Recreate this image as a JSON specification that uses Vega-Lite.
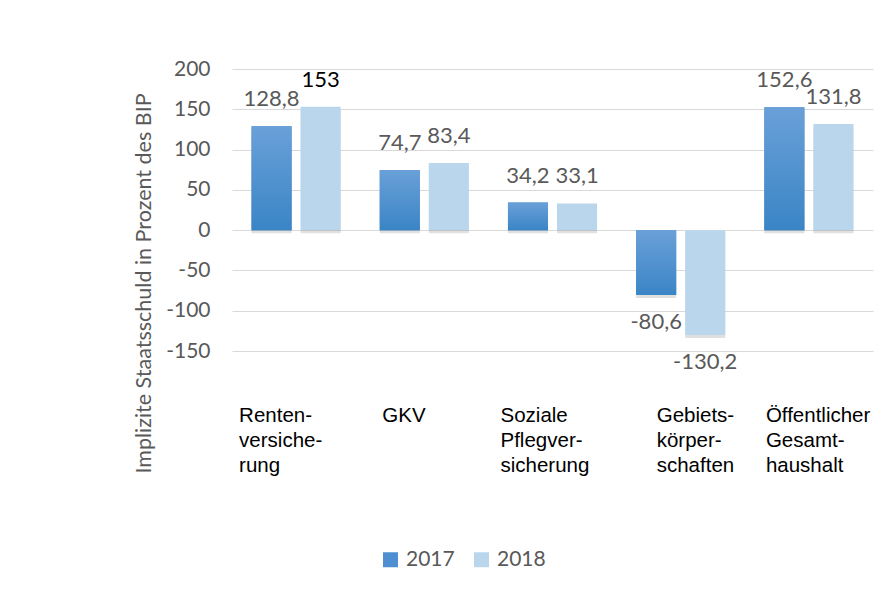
{
  "$schema": "https://vega.github.io/schema/vega-lite/v6.json",
  "width": 641,
  "height": 282,
  "autosize": "none",
  "padding": {"left": 232, "top": 69, "right": 18, "bottom": 242},
  "background": "white",
  "config": {
    "view": {"stroke": null},
    "font": "Lato",
    "locale": {"number": {"decimal": ",", "thousands": ".", "grouping": [3], "currency": ["", " €"], "minus": "-"}}
  },
  "data": {"values": [
    {"Bereich": "Rentenversicherung", "Jahr": "2017", "Wert": 128.8},
    {"Bereich": "Rentenversicherung", "Jahr": "2018", "Wert": 153},
    {"Bereich": "GKV", "Jahr": "2017", "Wert": 74.7},
    {"Bereich": "GKV", "Jahr": "2018", "Wert": 83.4},
    {"Bereich": "Soziale Pflegversicherung", "Jahr": "2017", "Wert": 34.2},
    {"Bereich": "Soziale Pflegversicherung", "Jahr": "2018", "Wert": 33.1},
    {"Bereich": "Gebietskörperschaften", "Jahr": "2017", "Wert": -80.6},
    {"Bereich": "Gebietskörperschaften", "Jahr": "2018", "Wert": -130.2},
    {"Bereich": "Öffentlicher Gesamthaushalt", "Jahr": "2017", "Wert": 152.6},
    {"Bereich": "Öffentlicher Gesamthaushalt", "Jahr": "2018", "Wert": 131.8}
  ]},
  "encoding": {
    "x": {
      "field": "Bereich", "type": "nominal", "sort": null,
      "scale": {"paddingInner": 0.305, "paddingOuter": 0.1525},
      "axis": {
        "title": null, "domain": false, "ticks": false, "grid": false,
        "labelAngle": 0, "labelAlign": "left", "labelBaseline": "top",
        "labelPadding": 54, "labelFont": "Liberation Sans", "labelFontSize": 20.5,
        "labelColor": "#000000", "labelLineHeight": 25, "labelOverlap": false, "labelLimit": 300,
        "labelExpr": "datum.value == 'Rentenversicherung' ? ['Renten-','versiche-','rung'] : datum.value == 'Soziale Pflegversicherung' ? ['Soziale','Pflegver-','sicherung'] : datum.value == 'Gebietskörperschaften' ? ['Gebiets-','körper-','schaften'] : datum.value == 'Öffentlicher Gesamthaushalt' ? ['Öffentlicher','Gesamt-','haushalt'] : datum.value",
        "labelOffset": {"expr": "datum.value == 'Rentenversicherung' ? -57 : datum.value == 'GKV' ? -42 : datum.value == 'Soziale Pflegversicherung' ? -52 : datum.value == 'Gebietskörperschaften' ? -24 : -43"}
      }
    },
    "xOffset": {"field": "Jahr", "type": "nominal", "scale": {"paddingInner": 0.184, "paddingOuter": 0}},
    "y": {
      "field": "Wert", "type": "quantitative",
      "scale": {"domain": [-150, 200], "nice": false, "zero": true},
      "axis": {
        "title": "Implizite Staatsschuld in Prozent des BIP",
        "values": [-150, -100, -50, 0, 50, 100, 150, 200],
        "grid": true, "gridColor": "#d9d9d9", "gridWidth": 1,
        "domain": false, "ticks": false, "labelPadding": 22,
        "labelFont": "Lato", "labelFontSize": 21, "labelColor": "#595959",
        "titleFont": "Lato", "titleFontSize": 21.5, "titleColor": "#595959", "titleFontWeight": "normal",
        "titleX": -82, "titleY": 214, "titleAngle": -90, "titleAlign": "center", "titleBaseline": "alphabetic"
      }
    }
  },
  "layer": [
    {
      "mark": {"type": "bar", "color": "#000000", "opacity": 0.12, "xOffset": 2, "yOffset": 3}
    },
    {
      "mark": {"type": "bar"},
      "encoding": {
        "color": {
          "field": "Jahr", "type": "nominal",
          "scale": {"domain": ["2017", "2018"], "range": ["#4d8fd0", "#bad6ed"]},
          "legend": {
            "orient": "none", "legendX": 148, "legendY": 480, "direction": "horizontal",
            "title": null, "symbolType": "square", "symbolSize": 225, "symbolStrokeWidth": 0,
            "labelFont": "Lato", "labelFontSize": 21, "labelColor": "#595959",
            "columnPadding": 16, "labelOffset": 5
          }
        }
      }
    },
    {
      "transform": [{"filter": "datum.Jahr == '2017'"}],
      "mark": {
        "type": "bar",
        "color": {"gradient": "linear", "x1": 0, "y1": 0, "x2": 0, "y2": 1,
          "stops": [{"offset": 0, "color": "#6aa0d8"}, {"offset": 1, "color": "#3a85c6"}]}
      }
    },
    {
      "transform": [{"filter": "datum.Wert >= 0"}],
      "mark": {"type": "text", "baseline": "alphabetic", "dy": -20, "font": "Lato", "fontSize": 22},
      "encoding": {
        "text": {"field": "Wert", "type": "quantitative", "format": "~g"},
        "color": {"condition": {"test": "datum.Wert == 153", "value": "#000000"}, "value": "#595959"}
      }
    },
    {
      "transform": [{"filter": "datum.Wert < 0"}],
      "mark": {"type": "text", "baseline": "top", "dy": 17, "font": "Lato", "fontSize": 22, "color": "#595959"},
      "encoding": {
        "text": {"field": "Wert", "type": "quantitative", "format": "~g"}
      }
    }
  ]
}
